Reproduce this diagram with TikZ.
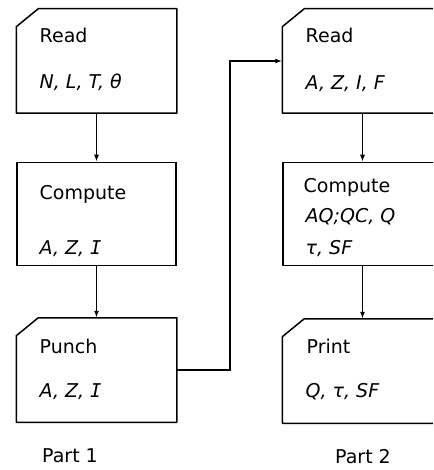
\documentclass[tikz,border=0pt]{standalone}
\usepackage{fontspec}
\setmainfont{DejaVu Sans}
\newfontfamily\barfont{DejaVu Sans Mono}
\usetikzlibrary{arrows.meta, positioning, calc}

% the barred I of the first part
\newcommand{\barI}{{\barfont\itshape I}}
% box outline with its top left corner cut off
\newcommand{\cutcorner}[1]{%
  \draw[edge] ($(#1.north west)+(0,18)$) -- ($(#1.north west)+(22,0)$)
    -- (#1.north east) -- (#1.south east) -- (#1.south west) -- cycle;}

\begin{document}
\begin{tikzpicture}[x=1pt, y=-1pt,
    block/.style={rectangle, draw, line width=1.5pt, minimum width=159pt, minimum height=103pt, inner sep=0pt},
    card/.style={block, draw=none},
    edge/.style={line width=1.5pt, line join=round},
    txt/.style={anchor=base west, inner sep=0pt, font=\fontsize{19}{22}\selectfont},
    flow/.style={-{Latex[length=7pt, width=5pt]}, line width=1.5pt}
  ]
    \useasboundingbox (0,0) rectangle (433,470);
    \clip (0,0) rectangle (433,470);

    % Part 1
    \node[card] (read1) at (96.5, 61) {};
    \node[block] (comp1) at (96.5, 214) {};
    \node[card] (punch1) at (96.5, 370) {};
    \cutcorner{read1}
    \cutcorner{punch1}

    \node[txt] (read1a) at ($(read1.center)+(-57,-18)$) {Read};
    \node[txt] (read1b) at ($(read1.center)+(-57,28)$) {\itshape N,\ L,\ T,\ θ};
    \node[txt] (comp1a) at ($(comp1.center)+(-57,-15)$) {Compute};
    \node[txt] (comp1b) at ($(comp1.center)+(-57,40)$) {\itshape A,\ Z,\ \barI};
    \node[txt] (punch1a) at ($(punch1.center)+(-57,-17)$) {Punch};
    \node[txt] (punch1b) at ($(punch1.center)+(-57,27)$) {\itshape A,\ Z,\ \barI};
    \node[txt] (part1) at ($(punch1.center)+(-54.5,92)$) {Part 1};

    % Part 2
    \node[card] (read2) at (362.5, 61) {};
    \node[block] (comp2) at (362.5, 214) {};
    \node[card] (print2) at (362.5, 371) {};
    \cutcorner{read2}
    \cutcorner{print2}

    \node[txt] (read2a) at ($(read2.center)+(-57,-18)$) {Read};
    \node[txt] (read2b) at ($(read2.center)+(-57,29)$) {\itshape A,\ Z,\ I,\ F};
    \node[txt] (comp2a) at ($(comp2.center)+(-59,-21)$) {Compute};
    \node[txt] (comp2b) at ($(comp2.center)+(-57,8)$) {\itshape AQ;QC,\ Q};
    \node[txt] (comp2c) at ($(comp2.center)+(-57,40)$) {\itshape τ,\ SF};
    \node[txt] (print2a) at ($(print2.center)+(-56,-18)$) {Print};
    \node[txt] (print2b) at ($(print2.center)+(-57,26)$) {\itshape Q,\ τ,\ SF};
    \node[txt] (part2) at ($(print2.center)+(-27.5,92)$) {Part 2};

    % Flows
    \draw[flow] (read1) -- (comp1);
    \draw[flow] (comp1) -- (punch1);
    \draw[flow] (read2) -- (comp2);
    \draw[flow] (comp2) -- (print2);

    % Punched cards carried over to part 2
    \draw[flow] (punch1.east) -- ++(53,0) |- (read2.west);

  \end{tikzpicture}
\end{document}
